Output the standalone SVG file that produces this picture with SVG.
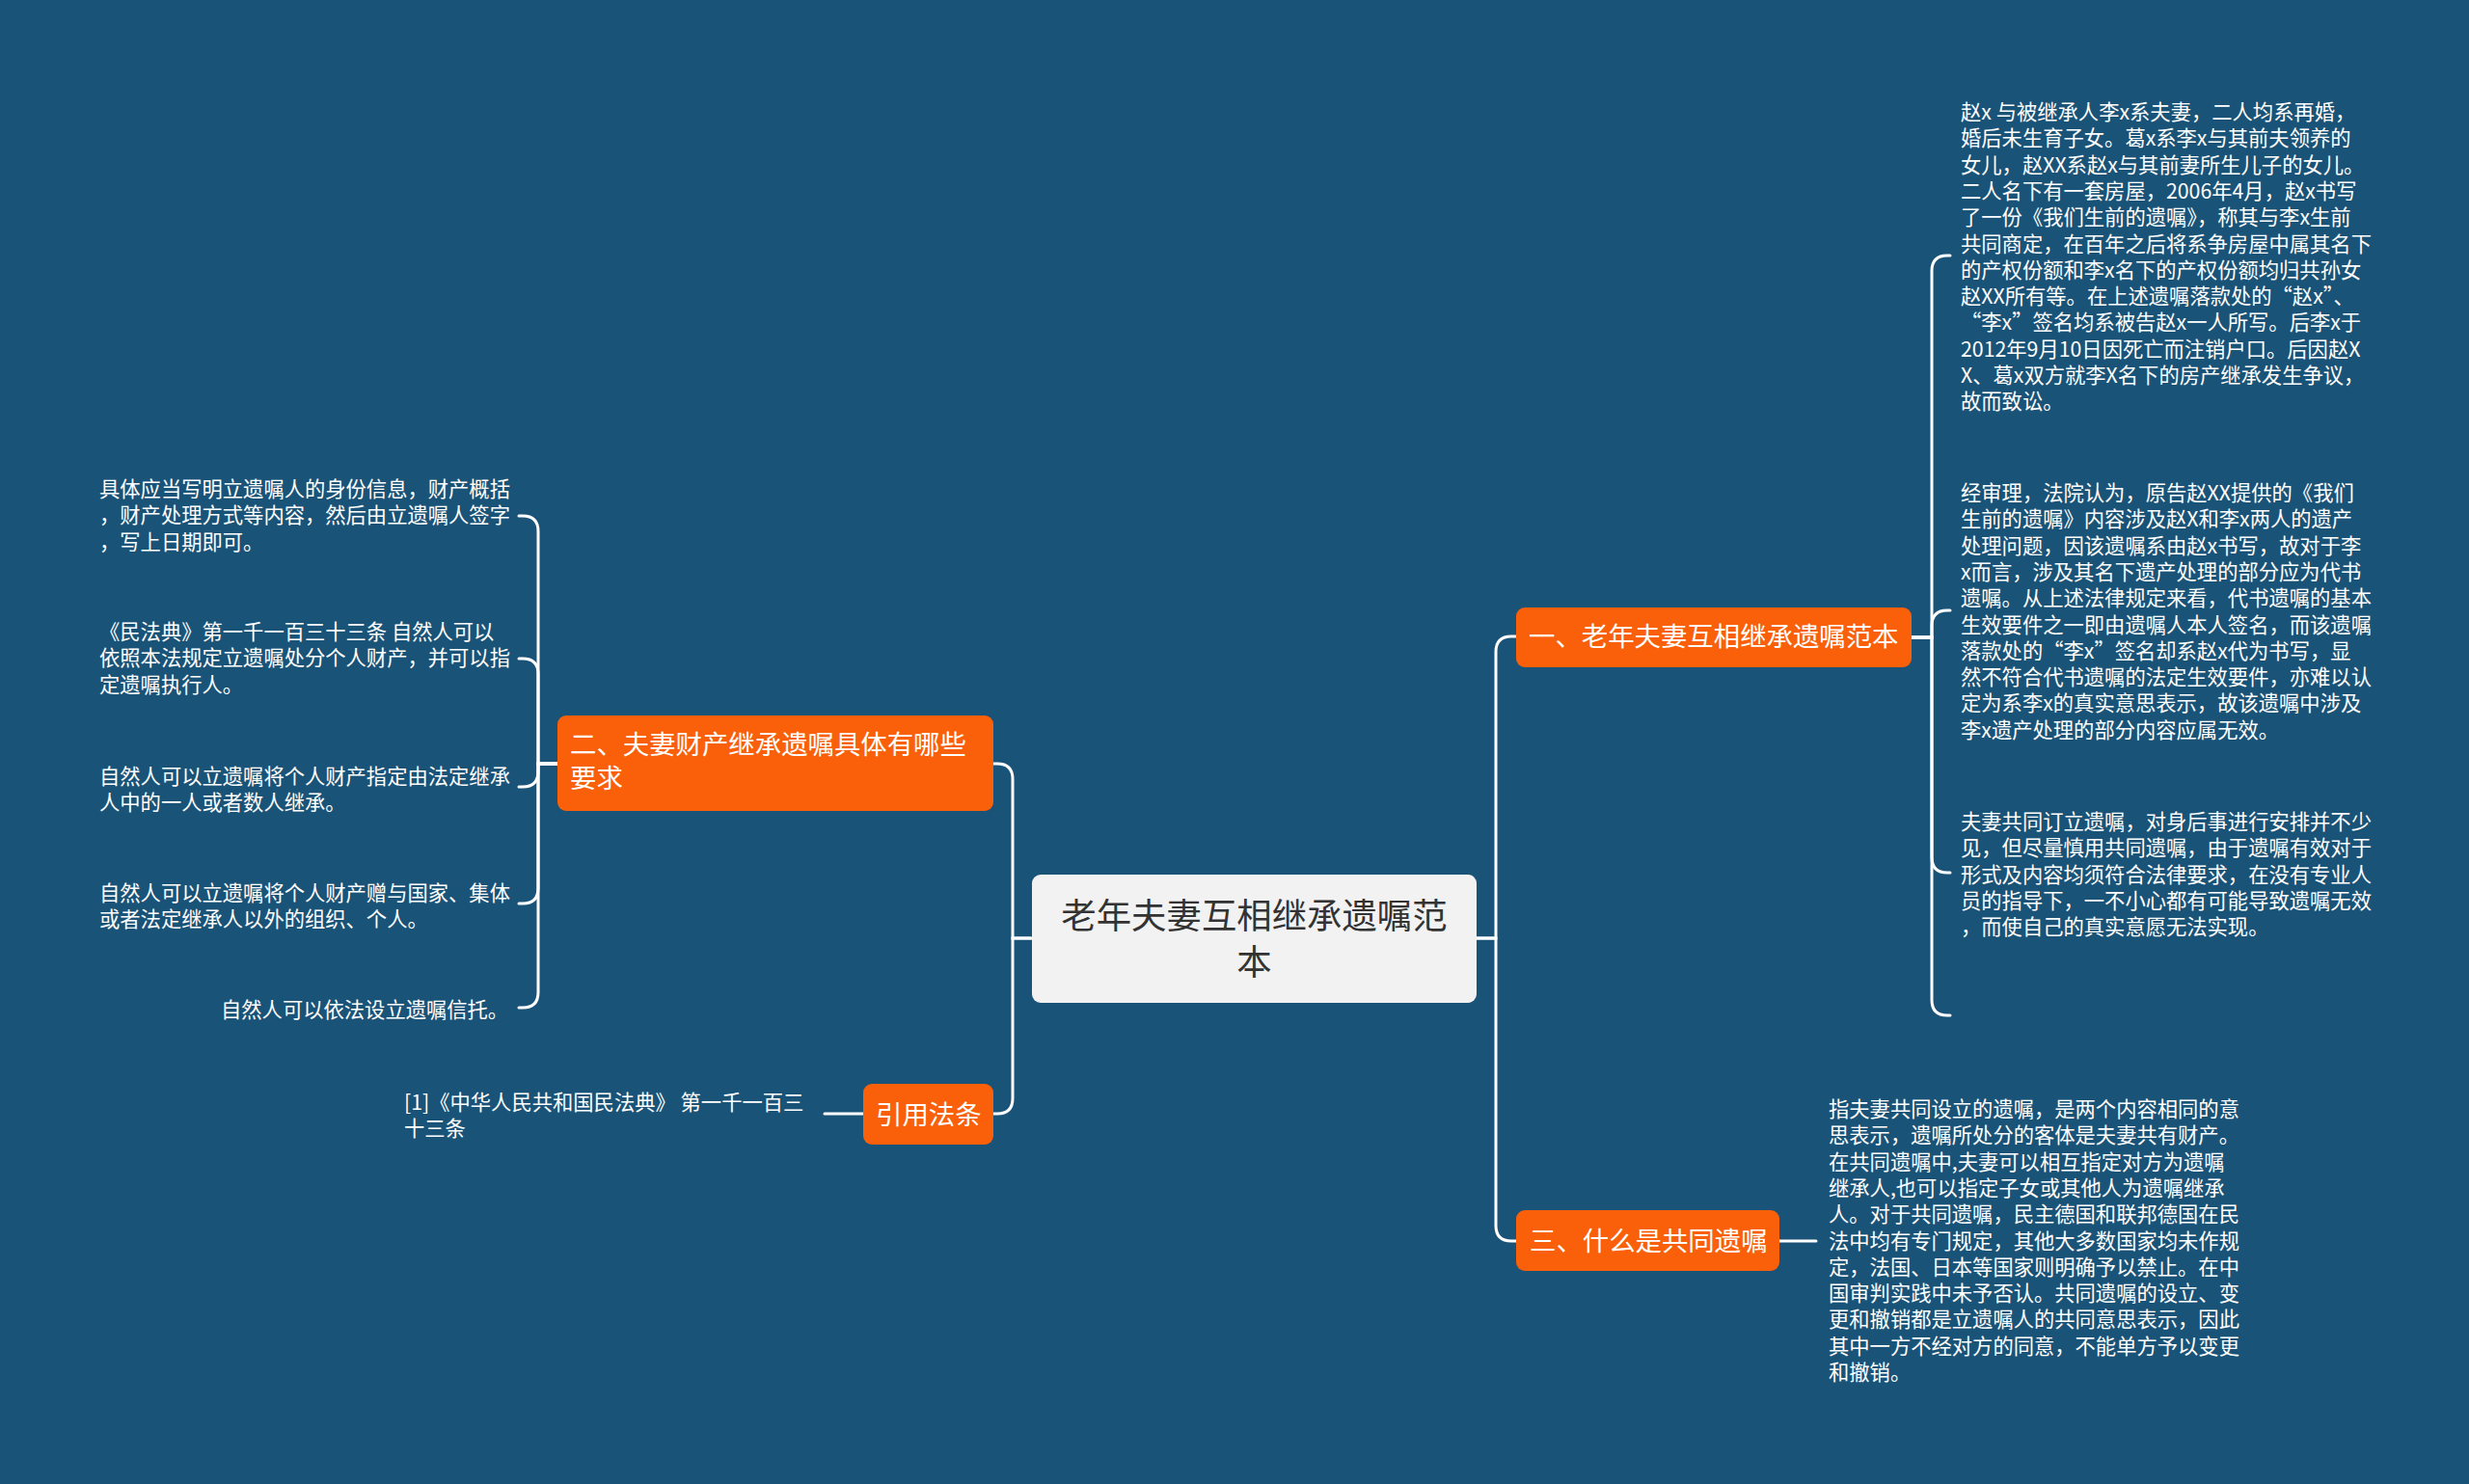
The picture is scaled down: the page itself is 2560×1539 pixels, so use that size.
<svg xmlns="http://www.w3.org/2000/svg" width="2560" height="1539" viewBox="0 0 2560 1539">
<style>
.bg{fill:#1a5378}
.conn{fill:none;stroke:#ffffff;stroke-width:3;stroke-linecap:round}
.main{fill:#f2f2f2}
.sub{fill:#fa5f0a}
.t{font-family:"Noto Sans CJK SC","Noto Sans",sans-serif}
.tc{font-size:36.4px;fill:#333333}
.ts{font-size:27.4px;fill:#ffffff}
.tl{font-size:21.3px;fill:#ffffff}
</style>
<rect class="bg" x="0" y="0" width="2560" height="1539"/>
<g id="connectors">
<path class="conn" d="M1531,973 H1551 V676 Q1551,660 1567,660 H1572"/>
<path class="conn" d="M1531,973 H1551 V1271 Q1551,1287 1567,1287 H1572"/>
<path class="conn" d="M1069,973 H1050 V808 Q1050,792 1034,792 H1030"/>
<path class="conn" d="M1069,973 H1050 V1139 Q1050,1155 1034,1155 H1030"/>
<path class="conn" d="M1982,661 H2003 V281 Q2003,265 2019,265 H2022"/>
<path class="conn" d="M1982,661 H2003 V649 Q2003,633 2019,633 H2022"/>
<path class="conn" d="M1982,661 H2003 V889 Q2003,905 2019,905 H2022"/>
<path class="conn" d="M1982,661 H2003 V1037 Q2003,1053 2019,1053 H2022"/>
<path class="conn" d="M578,792 H558 V551 Q558,535 542,535 H538"/>
<path class="conn" d="M578,792 H558 V699 Q558,683 542,683 H538"/>
<path class="conn" d="M578,792 H558 V800 Q558,816 542,816 H538"/>
<path class="conn" d="M578,792 H558 V921 Q558,937 542,937 H538"/>
<path class="conn" d="M578,792 H558 V1029 Q558,1045 542,1045 H538"/>
<path class="conn" d="M1845,1287 H1883"/>
<path class="conn" d="M895,1155 H855"/>
</g>
<g id="root">
<rect class="main" x="1070" y="907" width="461" height="133" rx="9"/>
<text class="t tc" x="1300.5" text-anchor="middle"><tspan x="1300.5" y="963">老年夫妻互相继承遗嘱范</tspan><tspan x="1300.5" y="1011">本</tspan></text>
</g>
<g id="n1">
<rect class="sub" x="1572" y="630" width="410" height="62" rx="9"/>
<text class="t ts" x="1585" y="670">一、老年夫妻互相继承遗嘱范本</text>
</g>
<g id="n2">
<rect class="sub" x="578" y="742" width="452" height="99" rx="9"/>
<text class="t ts"><tspan x="591" y="782">二、夫妻财产继承遗嘱具体有哪些</tspan><tspan x="591" y="817">要求</tspan></text>
</g>
<g id="n3">
<rect class="sub" x="1572" y="1255" width="273" height="63" rx="9"/>
<text class="t ts" x="1586" y="1297">三、什么是共同遗嘱</text>
</g>
<g id="n4">
<rect class="sub" x="895" y="1124" width="135" height="63" rx="9"/>
<text class="t ts" x="908" y="1166">引用法条</text>
</g>
<g id="leaf1a">
<text class="t tl"><tspan x="2033" y="124">赵x 与被继承人李x系夫妻，二人均系再婚，</tspan><tspan x="2033" y="151.3">婚后未生育子女。葛x系李x与其前夫领养的</tspan><tspan x="2033" y="178.6">女儿，赵XX系赵x与其前妻所生儿子的女儿。</tspan><tspan x="2033" y="205.9">二人名下有一套房屋，2006年4月，赵x书写</tspan><tspan x="2033" y="233.2">了一份《我们生前的遗嘱》，称其与李x生前</tspan><tspan x="2033" y="260.5">共同商定，在百年之后将系争房屋中属其名下</tspan><tspan x="2033" y="287.8">的产权份额和李x名下的产权份额均归共孙女</tspan><tspan x="2033" y="315.1">赵XX所有等。在上述遗嘱落款处的“赵x”、</tspan><tspan x="2033" y="342.4">“李x”签名均系被告赵x一人所写。后李x于</tspan><tspan x="2033" y="369.7">2012年9月10日因死亡而注销户口。后因赵X</tspan><tspan x="2033" y="397">X、葛x双方就李X名下的房产继承发生争议，</tspan><tspan x="2033" y="424.3">故而致讼。</tspan></text>
</g>
<g id="leaf1b">
<text class="t tl"><tspan x="2033" y="519">经审理，法院认为，原告赵XX提供的《我们</tspan><tspan x="2033" y="546.3">生前的遗嘱》内容涉及赵X和李x两人的遗产</tspan><tspan x="2033" y="573.6">处理问题，因该遗嘱系由赵x书写，故对于李</tspan><tspan x="2033" y="600.9">x而言，涉及其名下遗产处理的部分应为代书</tspan><tspan x="2033" y="628.2">遗嘱。从上述法律规定来看，代书遗嘱的基本</tspan><tspan x="2033" y="655.5">生效要件之一即由遗嘱人本人签名，而该遗嘱</tspan><tspan x="2033" y="682.8">落款处的“李x”签名却系赵x代为书写，显</tspan><tspan x="2033" y="710.1">然不符合代书遗嘱的法定生效要件，亦难以认</tspan><tspan x="2033" y="737.4">定为系李x的真实意思表示，故该遗嘱中涉及</tspan><tspan x="2033" y="764.7">李x遗产处理的部分内容应属无效。</tspan></text>
</g>
<g id="leaf1c">
<text class="t tl"><tspan x="2033" y="860">夫妻共同订立遗嘱，对身后事进行安排并不少</tspan><tspan x="2033" y="887.3">见，但尽量慎用共同遗嘱，由于遗嘱有效对于</tspan><tspan x="2033" y="914.6">形式及内容均须符合法律要求，在没有专业人</tspan><tspan x="2033" y="941.9">员的指导下，一不小心都有可能导致遗嘱无效</tspan><tspan x="2033" y="969.2">，而使自己的真实意愿无法实现。</tspan></text>
</g>
<g id="leaf3">
<text class="t tl"><tspan x="1896" y="1158">指夫妻共同设立的遗嘱，是两个内容相同的意</tspan><tspan x="1896" y="1185.3">思表示，遗嘱所处分的客体是夫妻共有财产。</tspan><tspan x="1896" y="1212.6">在共同遗嘱中,夫妻可以相互指定对方为遗嘱</tspan><tspan x="1896" y="1239.9">继承人,也可以指定子女或其他人为遗嘱继承</tspan><tspan x="1896" y="1267.2">人。对于共同遗嘱，民主德国和联邦德国在民</tspan><tspan x="1896" y="1294.5">法中均有专门规定，其他大多数国家均未作规</tspan><tspan x="1896" y="1321.8">定，法国、日本等国家则明确予以禁止。在中</tspan><tspan x="1896" y="1349.1">国审判实践中未予否认。共同遗嘱的设立、变</tspan><tspan x="1896" y="1376.4">更和撤销都是立遗嘱人的共同意思表示，因此</tspan><tspan x="1896" y="1403.7">其中一方不经对方的同意，不能单方予以变更</tspan><tspan x="1896" y="1431">和撤销。</tspan></text>
</g>
<g id="leaf2a">
<text class="t tl"><tspan x="103" y="515">具体应当写明立遗嘱人的身份信息，财产概括</tspan><tspan x="103" y="542.3">，财产处理方式等内容，然后由立遗嘱人签字</tspan><tspan x="103" y="569.6">，写上日期即可。</tspan></text>
</g>
<g id="leaf2b">
<text class="t tl"><tspan x="103" y="663">《民法典》第一千一百三十三条 自然人可以</tspan><tspan x="103" y="690.3">依照本法规定立遗嘱处分个人财产，并可以指</tspan><tspan x="103" y="717.6">定遗嘱执行人。</tspan></text>
</g>
<g id="leaf2c">
<text class="t tl"><tspan x="103" y="813">自然人可以立遗嘱将个人财产指定由法定继承</tspan><tspan x="103" y="840.3">人中的一人或者数人继承。</tspan></text>
</g>
<g id="leaf2d">
<text class="t tl"><tspan x="103" y="934">自然人可以立遗嘱将个人财产赠与国家、集体</tspan><tspan x="103" y="961.3">或者法定继承人以外的组织、个人。</tspan></text>
</g>
<g id="leaf2e">
<text class="t tl" x="229" y="1055">自然人可以依法设立遗嘱信托。</text>
</g>
<g id="leaf4">
<text class="t tl"><tspan x="419" y="1151">[1]《中华人民共和国民法典》 第一千一百三</tspan><tspan x="419" y="1178.3">十三条</tspan></text>
</g>
</svg>
